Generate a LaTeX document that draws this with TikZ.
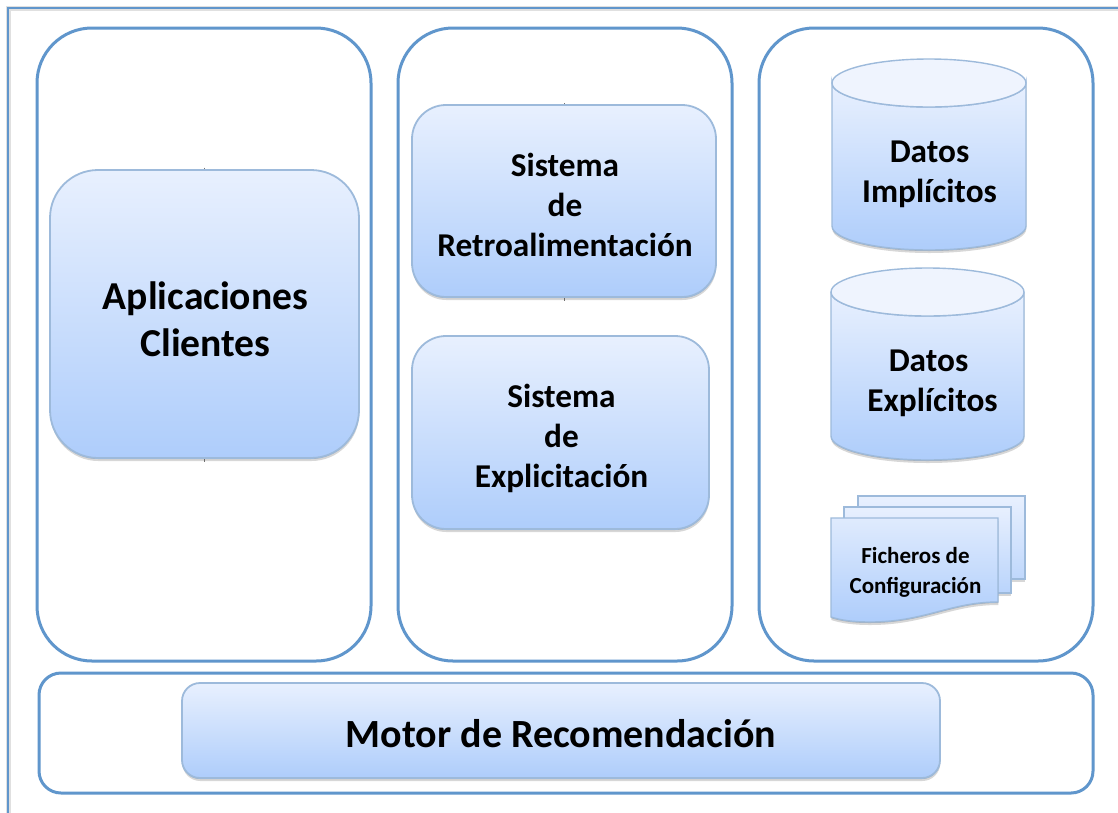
\documentclass[tikz,border=0pt]{standalone}
\usepackage{fontspec}
\setmainfont{Carlito}
\usetikzlibrary{shadows}
\definecolor{panelline}{HTML}{6096CC}
\definecolor{boxline}{HTML}{9DBADB}
\definecolor{gradtop}{HTML}{E8F0FE}
\definecolor{gradbot}{HTML}{AECDFB}
\tikzset{
  x=1pt,y=-1pt,
  panel/.style={draw=panelline,line width=3pt,fill=white,rectangle,inner sep=0pt},
  softshadow/.style={
    drop shadow={shadow xshift=0pt,shadow yshift=-1pt,opacity=.30,fill=black!70},
    drop shadow={shadow xshift=0.3pt,shadow yshift=-3pt,opacity=.22,fill=black!70}},
  gradbox/.style={draw=boxline,line width=1.8pt,top color=gradtop,bottom color=gradbot,rectangle,inner sep=0pt,softshadow},
  label/.style={font=\bfseries,align=center,text=black,inner sep=0pt},
  tick/.style={draw=black!55,line width=.6pt},
}
\begin{document}
\begin{tikzpicture}
\useasboundingbox (0,0) rectangle (1118,812);
\fill[white] (0,0) rectangle (1118,812);
\node[draw=black!12,line width=5pt,rectangle,inner sep=0pt,minimum width=1140pt,minimum height=840pt] (frameshade) at (578,428) {};
\node[draw=panelline,line width=1.5pt,rectangle,inner sep=0pt,minimum width=1140pt,minimum height=840pt] (frame) at (578,428) {};
\node[panel,rounded corners=55pt,minimum width=334pt,minimum height=633pt] (p1) at (204,344.5) {};
\node[panel,rounded corners=55pt,minimum width=334pt,minimum height=633pt] (p2) at (565,344.5) {};
\node[panel,rounded corners=55pt,minimum width=334pt,minimum height=633pt] (p3) at (926,344.5) {};
\node[panel,rounded corners=22pt,minimum width=1054pt,minimum height=120pt] (p4) at (566,733) {};
\draw[tick] (204.5,167.5) -- (204.5,462);
\node[gradbox,rounded corners=48pt,minimum width=309pt,minimum height=288pt] (apps) at (204.5,314) {};
\node[label,font=\bfseries\fontsize{39.6}{47}\selectfont] (appst) at (205.5,319) {Aplicaciones\\Clientes};
\draw[tick] (564,103) -- (564,301);
\node[gradbox,rounded corners=34pt,minimum width=304pt,minimum height=192pt] (retro) at (564,201) {};
\node[label,font=\bfseries\fontsize{33.3}{40}\selectfont] (retrot) at (565,204.5) {Sistema\\de\\Retroalimentación};
\node[gradbox,rounded corners=34pt,minimum width=297pt,minimum height=193pt] (expl) at (560.5,432.5) {};
\node[label,font=\bfseries\fontsize{33.3}{40}\selectfont] (explt) at (561.5,438.5) {Sistema\\de\\Explicitación};
\node[gradbox,rounded corners=18pt,minimum width=758pt,minimum height=95pt] (motor) at (561,730.5) {};
\node[label,font=\bfseries\fontsize{40}{47}\selectfont] (motort) at (561,734) {Motor de Recomendación};
% cylinder 1
\path[draw=boxline,line width=1.4pt,top color=gradtop,bottom color=gradbot,softshadow] (832,83) arc[x radius=97,y radius=24,start angle=180,end angle=0] -- (1026,226) arc[x radius=97,y radius=24,start angle=0,end angle=180] -- cycle;
\draw[draw=boxline,line width=1.4pt,fill=gradtop!70!white] (929,83) ellipse[x radius=97,y radius=24];
\node[label,font=\bfseries\fontsize{33.3}{40}\selectfont] (impl) at (929.5,174) {Datos\\Implícitos};
% cylinder 2
\path[draw=boxline,line width=1.4pt,top color=gradtop,bottom color=gradbot,softshadow] (831,292) arc[x radius=96.5,y radius=24,start angle=180,end angle=0] -- (1024,436) arc[x radius=96.5,y radius=24,start angle=0,end angle=180] -- cycle;
\draw[draw=boxline,line width=1.4pt,fill=gradtop!70!white] (927.5,292) ellipse[x radius=96.5,y radius=24];
\node[label,font=\bfseries\fontsize{33.3}{40}\selectfont] (explic) at (932.5,383) {Datos\hspace*{8pt}\\Explícitos};
% documents
\path[draw=boxline,line width=1.4pt,top color=gradtop,bottom color=gradbot!70!gradtop,softshadow] (858,496) -- (1025,496) -- (1025,579) -- (858,579) -- cycle;
\path[draw=boxline,line width=1.4pt,top color=gradtop,bottom color=gradbot!80!gradtop,softshadow] (844,507) -- (1011,507) -- (1011,593) -- (844,593) -- cycle;
\path[draw=boxline,line width=1.4pt,top color=gradtop!85!gradbot,bottom color=gradbot,softshadow] (831,518) -- (998,518) -- (998,602) .. controls (950,602) and (925,622) .. (870,622) .. controls (852,622) and (840,620) .. (831,617) -- cycle;
\node[label,font=\bfseries\fontsize{23}{30}\selectfont] (conf) at (915.5,572) {Ficheros de\\Configuración};
\end{tikzpicture}
\end{document}
